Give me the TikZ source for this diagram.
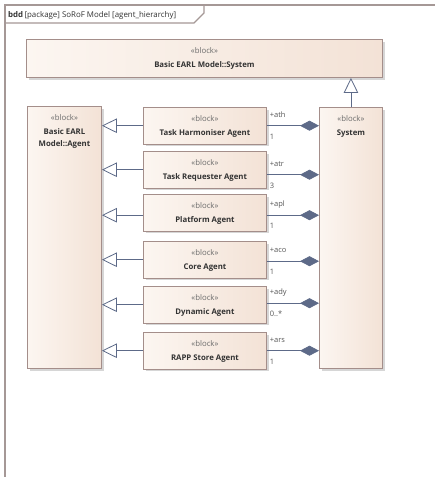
\documentclass[tikz,border=0pt]{standalone}
\usepackage{fontspec}
\setmainfont{Open Sans}
\usetikzlibrary{shadows,calc,arrows.meta}

\definecolor{frameln}{HTML}{A59896}
\definecolor{blkln}{HTML}{A48E8A}
\definecolor{blkL}{HTML}{FCF6F1}
\definecolor{blkR}{HTML}{F3E2D6}
\definecolor{conn}{HTML}{5D6A88}
\definecolor{stereo}{HTML}{6B6B6B}
\definecolor{nameclr}{HTML}{333333}
\definecolor{roleclr}{HTML}{555555}

\tikzset{
  frameline/.style={draw=frameln, line width=1.2pt},
  blk/.style={rectangle, draw=blkln, line width=0.9pt, left color=blkL, right color=blkR,
    inner sep=0pt, anchor=north west,
    drop shadow={shadow xshift=2.2pt, shadow yshift=-2.2pt, fill=black, opacity=0.16}},
  stereotxt/.style={font=\fontsize{7.8}{9}\selectfont, text=stereo, inner sep=0pt, anchor=base},
  nametxt/.style={font=\fontsize{7.8}{12.5}\selectfont\bfseries, text=nameclr, inner sep=0pt,
    align=center, anchor=base},
  roletxt/.style={font=\fontsize{7.5}{9}\selectfont, text=roleclr, inner sep=0pt, anchor=base west},
  gen/.style={draw=conn, line width=0.8pt, -{Triangle[fill=white, length=15pt, width=14.5pt, line width=0.8pt]}},
  comp/.style={draw=conn, line width=0.8pt, -{Diamond[fill=conn, length=19pt, width=10pt]}},
}

% stereotype and name of a block; #4 is the baseline offset of the name's last line
\newcommand\blocktext[4]{%
  \node[stereotxt] (#1-st) at ($(#2.north)+(0,14)$) {«block»};
  \node[nametxt] (#1-nm) at ($(#2.north)+(0,#4)$) {#3};}

\begin{document}
\begin{tikzpicture}[x=1pt, y=-1pt]
  \useasboundingbox (0,0) rectangle (435,477);
  \fill[white] (0,0) rectangle (435,477);

  % diagram frame and its name tab
  \draw[frameline] (5,477) -- (5,5) -- (435,5);
  \draw[frameline] (5,23) -- (194,23) -- (204,13) -- (204,5);
  \node[font=\fontsize{7.9}{9}\selectfont, text=nameclr, inner sep=0pt, anchor=base west]
    (title) at (8,17) {\textbf{bdd}\,[package] SoRoF Model [agent\_hierarchy]};

  % blocks
  \node[blk, minimum width=356pt, minimum height=38pt] (top) at (26,39) {};
  \node[blk, minimum width=74pt, minimum height=262pt] (agent) at (27,106) {};
  \node[blk, minimum width=63pt, minimum height=261pt] (sys) at (319,107) {};
  \node[blk, minimum width=123pt, minimum height=36.5pt] (harm) at (143,107) {};
  \node[blk, minimum width=123pt, minimum height=36.5pt] (req)  at (143,151) {};
  \node[blk, minimum width=123pt, minimum height=36.5pt] (plat) at (143,194) {};
  \node[blk, minimum width=123pt, minimum height=36.5pt] (core) at (143,241) {};
  \node[blk, minimum width=123pt, minimum height=36.5pt] (dyn)  at (143,286) {};
  \node[blk, minimum width=123pt, minimum height=36.5pt] (rapp) at (143,332) {};

  \blocktext{topt}{top}{Basic EARL Model::System}{28}
  \blocktext{agentt}{agent}{Basic EARL\\Model::Agent}{40.5}
  \blocktext{syst}{sys}{System}{28}
  \blocktext{harmt}{harm}{Task Harmoniser Agent}{28}
  \blocktext{reqt}{req}{Task Requester Agent}{28}
  \blocktext{platt}{plat}{Platform Agent}{28}
  \blocktext{coret}{core}{Core Agent}{28}
  \blocktext{dynt}{dyn}{Dynamic Agent}{28}
  \blocktext{rappt}{rapp}{RAPP Store Agent}{28}

  % generalisations
  \draw[gen] (sys.north) -- (top.south -| sys.north);
  \draw[gen] (harm.west) -- (harm.west -| agent.east);
  \draw[gen] (req.west) -- (req.west -| agent.east);
  \draw[gen] ($(plat.west)+(0,2.5)$) coordinate (platg) -- (platg -| agent.east);
  \draw[gen] (core.west) -- (core.west -| agent.east);
  \draw[gen] (dyn.west) -- (dyn.west -| agent.east);
  \draw[gen] (rapp.west) -- (rapp.west -| agent.east);

  % compositions with role names and multiplicities
  \draw[comp] (harm.east) -- (harm.east -| sys.west)
    node[roletxt, pos=0, xshift=2.5pt, yshift=8.5pt] (ath) {+ath}
    node[roletxt, pos=0, xshift=2.5pt, yshift=-13.5pt] (athm) {1};
  \draw[comp] ($(req.east)+(0,5)$) coordinate (reqc) -- (reqc -| sys.west)
    node[roletxt, pos=0, xshift=2.5pt, yshift=8.5pt] (atr) {+atr}
    node[roletxt, pos=0, xshift=2.5pt, yshift=-13.5pt] (atrm) {3};
  \draw[comp] ($(plat.east)+(0,2.5)$) coordinate (platc) -- (platc -| sys.west)
    node[roletxt, pos=0, xshift=2.5pt, yshift=8.5pt] (apl) {+apl}
    node[roletxt, pos=0, xshift=2.5pt, yshift=-13.5pt] (aplm) {1};
  \draw[comp] ($(core.east)+(0,1.5)$) coordinate (corec) -- (corec -| sys.west)
    node[roletxt, pos=0, xshift=2.5pt, yshift=8.5pt] (aco) {+aco}
    node[roletxt, pos=0, xshift=2.5pt, yshift=-13.5pt] (acom) {1};
  \draw[comp] ($(dyn.east)+(0,-1.5)$) coordinate (dync) -- (dync -| sys.west)
    node[roletxt, pos=0, xshift=2.5pt, yshift=8.5pt] (ady) {+ady}
    node[roletxt, pos=0, xshift=2.5pt, yshift=-13.5pt] (adym) {0..*};
  \draw[comp] (rapp.east) -- (rapp.east -| sys.west)
    node[roletxt, pos=0, xshift=2.5pt, yshift=8.5pt] (ars) {+ars}
    node[roletxt, pos=0, xshift=2.5pt, yshift=-13.5pt] (arsm) {1};
\end{tikzpicture}
\end{document}
